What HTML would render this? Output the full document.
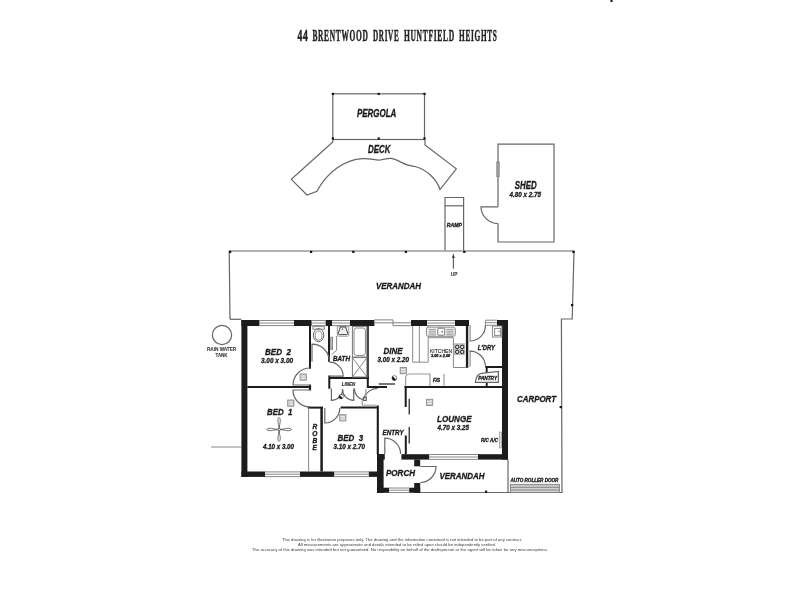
<!DOCTYPE html>
<html><head><meta charset="utf-8">
<style>
html,body{margin:0;padding:0;background:#fff;}
body{width:800px;height:600px;overflow:hidden;}
svg{display:block;filter:blur(0.3px);}
text{font-family:"Liberation Sans",sans-serif;font-weight:bold;font-style:italic;fill:#1a1a1a;stroke:#1a1a1a;stroke-width:.32;text-anchor:middle;}
.t{font-family:"Liberation Serif",serif;font-style:normal;font-weight:bold;fill:#222;stroke:#222;stroke-width:.5;text-anchor:start;letter-spacing:1.5px;}
.l{stroke:#666;stroke-width:1.2;fill:none;}
.g{stroke:#888;stroke-width:1;fill:none;}
.w{fill:#1c1c1c;stroke:none;}
.k{stroke:#1c1c1c;fill:none;stroke-width:2;}
.d{fill:#111;}
.s{font-style:normal;font-weight:normal;fill:#3a3a3a;stroke:none;}
.b{font-weight:bold;fill:#3c3c3c;stroke:#3c3c3c;stroke-width:.12;}
</style></head><body>
<svg width="800" height="600" viewBox="0 0 800 600">
<rect width="800" height="600" fill="#fff"/>
<!-- TITLE -->
<text class="t" x="297.4" y="41.3" font-size="16" textLength="11.4" lengthAdjust="spacingAndGlyphs">44</text>
<text class="t" x="312.4" y="41.3" font-size="16" textLength="56.1" lengthAdjust="spacingAndGlyphs">BRENTWOOD</text>
<text class="t" x="373" y="41.3" font-size="16" textLength="26.4" lengthAdjust="spacingAndGlyphs">DRIVE</text>
<text class="t" x="403.9" y="41.3" font-size="16" textLength="51.0" lengthAdjust="spacingAndGlyphs">HUNTFIELD</text>
<text class="t" x="459.1" y="41.3" font-size="16" textLength="38.5" lengthAdjust="spacingAndGlyphs">HEIGHTS</text>
<rect x="610.5" y="0" width="2" height="2" class="d"/>
<!-- PERGOLA -->
<g id="pergola">
<rect class="l" x="332.8" y="93.8" width="91.7" height="45.7"/>
<g class="d">
<rect x="331.8" y="92.8" width="2.2" height="2.2"/><rect x="377.6" y="92.8" width="2.2" height="2.2"/><rect x="423.4" y="92.8" width="2.2" height="2.2"/>
<rect x="331.8" y="137.4" width="2.2" height="2.2"/><rect x="377.6" y="137.4" width="2.2" height="2.2"/><rect x="423.4" y="137.4" width="2.2" height="2.2"/>
</g>
<text x="376.6" y="117.1" font-size="10.2" textLength="39.3" lengthAdjust="spacingAndGlyphs">PERGOLA</text>
</g>
<!-- DECK -->
<g id="deck">
<path class="l" d="M332.8,139.5 L332.8,142 L291.3,179.3 L307,195 L317,191.3 C327,172 345,159.5 362.5,158.6 C370,158.2 376,160.5 380,160 C384,159.5 388,158 391,158.4 C398,159.5 403,164 408,165.2 C411,166 413,165.8 416,166.8 C428,170.5 437,180 440,189.5 L456.3,168.8 L425,145 L425,139.5"/>
<text x="379.3" y="153.2" font-size="10.2" textLength="22.5" lengthAdjust="spacingAndGlyphs">DECK</text>
</g>
<!-- SHED -->
<g id="shed">
<path class="l" d="M498,206.8 L498,144.1 L554,144.1 L554,242 L498,242 L498,223.4"/>
<path class="l" d="M498,206.8 L481,206.8 A17,17 0 0 0 498,223.6"/>
<rect class="g" x="496.8" y="162" width="2.4" height="14.6" fill="#ccc"/>
<text x="525.7" y="189" font-size="10.2" textLength="21.9" lengthAdjust="spacingAndGlyphs">SHED</text>
<text x="525.3" y="196.8" font-size="7.2" textLength="31.5" lengthAdjust="spacingAndGlyphs">4.80 x 2.75</text>
</g>
<!-- RAMP -->
<g id="ramp">
<path class="l" d="M445,250.6 V197.5 H463.6 V250.6"/>
<line class="l" x1="445" y1="205.8" x2="463.8" y2="205.8"/>
<text x="454.4" y="226.6" font-size="5.6" textLength="15.2" lengthAdjust="spacingAndGlyphs">RAMP</text>
<line class="l" x1="453.4" y1="256" x2="453.4" y2="268.8" stroke="#444" stroke-width="0.9"/>
<path d="M453.4,253.2 L452.1,258 L454.7,258 Z" fill="#333"/>
<text x="454.1" y="276.2" font-size="4.6" class="s b" textLength="6.7" lengthAdjust="spacingAndGlyphs">UP</text>
</g>
<!-- VERANDAH (rear) + CARPORT outline -->
<g id="verandah">
<path class="l" d="M230,319.3 L229.2,251 L574,251 L572.2,319 L561.4,319 L562,492.5 L420,492.5"/>
<line class="l" x1="230" y1="319.3" x2="241.4" y2="319.3"/>
<g class="d">
<rect x="229" y="250.8" width="2.2" height="2.2"/><rect x="310" y="250.8" width="2.2" height="2.2"/><rect x="352.2" y="250.8" width="2.2" height="2.2"/><rect x="404.8" y="250.8" width="2.2" height="2.2"/><rect x="463.2" y="250.8" width="2.2" height="2.2"/><rect x="572.4" y="250.8" width="2.2" height="2.2"/>
<rect x="571" y="304" width="2.2" height="2.2"/><rect x="559.6" y="406" width="2.2" height="2.2"/><rect x="485" y="490.6" width="2.2" height="2.2"/>
</g>
<text x="398.5" y="289" font-size="9.2" textLength="45" lengthAdjust="spacingAndGlyphs">VERANDAH</text>
<text x="536.5" y="401.8" font-size="9.2" textLength="39" lengthAdjust="spacingAndGlyphs">CARPORT</text>
<line class="l" x1="508" y1="459.6" x2="508" y2="492.5"/>
<!-- roller door -->
<rect class="g" x="510.4" y="484.4" width="49" height="8" fill="#ddd"/>
<path class="g" d="M510.4,486 H559.4 M510.4,487.6 H559.4 M510.4,489.2 H559.4 M510.4,490.8 H559.4" stroke-width="0.6"/>
<text x="534.4" y="482" font-size="5" textLength="48" lengthAdjust="spacingAndGlyphs">AUTO ROLLER DOOR</text>
<text x="461.9" y="478.5" font-size="9.2" textLength="45" lengthAdjust="spacingAndGlyphs">VERANDAH</text>
</g>
<!-- RAIN WATER TANK + fence -->
<circle class="l" cx="222" cy="335" r="9.6" stroke="#777" stroke-width="0.9"/>
<text x="221.6" y="350.6" font-size="4.8" class="s b" textLength="29.2" lengthAdjust="spacingAndGlyphs">RAIN WATER</text>
<text x="221.5" y="357.4" font-size="4.8" class="s b" textLength="12" lengthAdjust="spacingAndGlyphs">TANK</text>
<line class="g" x1="211" y1="447" x2="241.4" y2="447"/>
<!-- HOUSE outer walls -->
<g id="outer" class="w">
<rect x="241.4" y="320" width="6" height="157"/>
<rect x="241.4" y="320" width="18" height="6"/>
<rect x="294" y="320" width="17.6" height="6"/>
<rect x="325.6" y="320" width="6.4" height="6"/>
<rect x="350" y="320" width="24.4" height="6"/>
<rect x="411" y="320" width="16" height="6"/>
<rect x="455" y="320" width="14" height="6"/>
<rect x="497" y="320" width="11" height="6"/>
<rect x="502" y="320" width="6" height="139.6"/>
<rect x="478" y="454.2" width="30" height="5.4"/>
<rect x="401.4" y="454.2" width="27.8" height="5.4"/>
<rect x="241.4" y="471.5" width="23.6" height="5.4"/>
<rect x="300" y="471.5" width="34.2" height="5.4"/>
<rect x="368.8" y="471.5" width="9" height="5.4"/>
<rect x="377" y="454.2" width="6.6" height="38.6"/>
<rect x="377" y="454.2" width="7.8" height="5.4"/>
<rect x="377" y="487.7" width="12" height="5.1"/>
<rect x="409.2" y="487.7" width="11" height="5.1"/>
<rect x="414.2" y="459.5" width="6" height="6.8"/>
<rect x="414.2" y="483" width="6" height="9.8"/>
</g>
<!-- windows -->
<g id="windows" class="g" stroke-width="0.9">
<path d="M259.4,320.5 H294 M259.4,323 H294 M259.4,325.6 H294"/>
<path d="M311.6,320.5 H325.6 M311.6,323 H325.6 M311.6,325.6 H325.6"/>
<path d="M332,320.5 H350 M332,323 H350 M332,325.6 H350"/>
<path d="M374.4,319.9 H393 V325.7 H411 M374.4,322.8 H411" stroke="#808080" stroke-width="1"/>
<path d="M427,320.5 H455 M427,323 H455 M427,325.6 H455"/>
<path d="M485.4,320.2 H497 M485.4,322.7 H497 M485.4,325.3 H497 M485.4,320.2 V325.3"/>
<path d="M429.2,454.5 H478 M429.2,457 H478 M429.2,459.4 H478"/>
<path d="M265,471.9 H300 M265,474.2 H300 M265,476.6 H300"/>
<path d="M334.2,471.9 H368.8 M334.2,474.2 H368.8 M334.2,476.6 H368.8"/>
<path d="M389,488 H409.2 M389,490.2 H409.2 M389,492.5 H409.2"/>
</g>
<!-- interior walls -->
<g id="inner" class="k" stroke-width="1.9">
<path d="M310,326 V368.8"/>
<path d="M247.4,387 H311"/>
<path d="M310,384.6 V390.4" stroke-width="2.2"/>
<path d="M329,326 V361.8"/>
<path d="M367.8,326 V388 M366.8,387 H387"/>
<path d="M328.4,378 H369 M329.3,375.6 V388.8"/>
<path d="M307.7,407.6 H323"/>
<path d="M321.6,407.6 V471.5" stroke-width="2.5"/>
<path d="M340.6,407.5 H378.7 M377.8,405.6 V454.4" stroke-width="2.1"/>
<path d="M404.5,387 H502"/>
<path d="M405.7,386.2 V407 M405.8,435.6 V454.4"/>
<path d="M409.2,398.7 V414.4 M409.2,427 V443.6" stroke-width="1.2"/>
<path d="M378.7,384 H395" stroke-width="1.2"/>
<path d="M467.1,326 V367.8" stroke-width="2.4"/>
<path d="M485.3,367 H502 M486.7,366.2 V387" stroke-width="1.9"/>
</g>
<line class="g" x1="308.6" y1="408" x2="308.6" y2="471.5" stroke-width="0.9"/>
<!-- doors -->
<g id="doors" class="l" stroke="#707070" stroke-width="0.95">
<path d="M310,385 H293 A17,17 0 0 1 310,368"/>
<path d="M310,390 H293 A17,17 0 0 0 310,407"/>
<path d="M312,361.6 V344.2 A17.4,17.4 0 0 1 329.4,361.6"/>
<path d="M329.4,376.2 H343.2 A13.9,13.9 0 0 0 329.4,362.2"/>
<path d="M324.8,408 V423 A15,15 0 0 0 339.8,408"/>
<path d="M377.5,388.4 A14.6,14.6 0 0 0 363.6,399"/>
<path d="M384.8,454 V438.2 A15.8,15.8 0 0 1 400.6,454"/>
<path d="M420.2,466.5 H436 A16,16 0 0 1 420.2,482.5"/>
<path d="M469.9,325.3 V341 A15.6,15.6 0 0 0 485.5,325.3"/>
<path d="M469.9,366.8 V351.2 A15.6,15.6 0 0 1 485.5,366.8"/>
</g>
<rect x="362.2" y="404.5" width="14.6" height="1.5" fill="#bbb"/>
<!-- linen doors -->
<g class="l" stroke-width="0.9">
<path d="M331.4,388.6 V400.4 A11.8,11.8 0 0 0 343,389.4"/>
<path d="M353.7,388.6 V400.4 A11.8,11.8 0 0 1 342.2,389.4"/>
<path d="M354.3,388.6 A11.7,11.7 0 0 0 364,400"/>
<path d="M365.9,389 V397.4" stroke="#999"/>
<rect x="363.3" y="397.4" width="3" height="3"/>
<path d="M362.3,400.4 V405" stroke="#999"/>
</g>
<circle cx="341.1" cy="396.6" r="2.2" fill="#fff" stroke="#111" stroke-width="0.5"/><path d="M339.54,395.04 A2.2,2.2 0 0 0 342.66,398.16 Z" fill="#111"/>
<!-- bathroom fixtures -->
<g id="bathfix" class="g" stroke-width="0.8">
<rect x="313" y="326.6" width="11.4" height="2.6"/>
<ellipse cx="318.6" cy="335.2" rx="5.2" ry="6.6" stroke="#666"/>
<ellipse cx="318.6" cy="335.6" rx="3.4" ry="4.6"/>
<path d="M337.3,326.6 H348.8 V335 Q348.8,336.2 347.6,336.2 H338.5 Q337.3,336.2 337.3,335 Z" stroke="#999"/>
<path d="M340.4,327 H345.6 L347.8,333.4 Q347.9,334.6 346.6,334.6 H339.4 Q338.1,334.6 338.2,333.4 Z" stroke="#444" fill="#eee"/>
<circle cx="342.4" cy="329.2" r="0.6" fill="#333" stroke="none"/>
<path d="M336.6,336 V350.3 L331.5,354.7"/>
<rect x="330.8" y="337.3" width="1.7" height="12" fill="#ccc"/>
<rect x="352.4" y="326.4" width="14.6" height="30.6" stroke="#777"/>
<rect x="354" y="328" width="11.4" height="27.4" rx="2.4"/>
<rect x="352.4" y="357.6" width="14.6" height="19.4" stroke="#777"/>
<path d="M352.4,357.6 L367,377 M367,357.6 L352.4,377"/>
</g>
<!-- kitchen -->
<g id="kitchen" class="g" stroke="#aaa" stroke-width="0.9">
<path d="M412.7,326 V362.2 H428.2 V326 M419.3,326 V362.2"/>
<path d="M428.2,337.7 H453.4 V367.5 H466"/>
<rect x="426.4" y="327.1" width="28.9" height="9.2" rx="2" stroke="#888" fill="#f2f2f2"/>
<rect x="437.8" y="328.2" width="6.9" height="7" rx="1" stroke="#777" fill="#fff"/>
<circle cx="442.2" cy="331.8" r="0.7" fill="#333" stroke="none"/>
<path d="M428.6,329.4 H436 M428.6,331.2 H436 M428.6,333 H436 M428.6,334.8 H436 M446.4,329.4 H453.6 M446.4,331.2 H453.6 M446.4,333 H453.6 M446.4,334.8 H453.6" stroke="#777" stroke-width="0.7"/>
<rect x="453.9" y="343.2" width="11" height="12" fill="#bdbdbd" stroke="none"/>
<g stroke="#111" stroke-width="0.9" fill="#e8e8e8">
<circle cx="457.2" cy="346.9" r="1.7"/><circle cx="462.2" cy="346.9" r="1.7"/><circle cx="457.2" cy="351.9" r="1.7"/><circle cx="462.2" cy="351.9" r="1.7"/>
</g>
<path d="M405.6,386.2 V378 Q405.8,374 410,374 H430 V386.2" stroke="#999" stroke-width="1.2"/>
<path d="M444,374 V385.4" stroke="#aaa" stroke-width="1.4"/>
<rect x="468.6" y="326" width="1.3" height="15" fill="#ccc" stroke="none"/>
<rect x="468.6" y="351.2" width="1.3" height="15.6" fill="#ccc" stroke="none"/>
</g>
<!-- laundry trough -->
<g class="g" stroke="#777" stroke-width="0.8">
<rect x="492.4" y="326" width="9.4" height="11"/>
<rect x="494.6" y="328.4" width="6" height="7"/>
<circle cx="499" cy="331.6" r="0.6" fill="#333" stroke="none"/>
</g>
<!-- pantry -->
<path class="l" stroke="#555" stroke-width="0.9" style="fill:#fff" d="M475.4,382.4 Q476.2,374.2 481.4,373.4 L498.4,371.4 V382.4 Z"/>
<!-- AC -->
<rect x="499.6" y="432" width="2" height="16" fill="#ddd" stroke="#888" stroke-width="0.6"/>
<!-- ball in dine -->
<circle cx="394.4" cy="378.0" r="2.4" fill="#fff" stroke="#111" stroke-width="0.5"/><path d="M392.70,376.30 A2.4,2.4 0 0 0 396.10,379.70 Z" fill="#111"/>
<!-- vents -->
<g id="vents">
<rect x="400.2" y="367.5" width="6.2" height="6.2" fill="#c6c6c6" stroke="#8c8c8c" stroke-width="0.9"/><path d="M401.0,369.5 h4.6 M401.0,371.8 h4.6" stroke="#f4f4f4" stroke-width="0.9"/>
<rect x="300.1" y="374.0" width="6.2" height="6.2" fill="#c6c6c6" stroke="#8c8c8c" stroke-width="0.9"/><path d="M300.9,376.0 h4.6 M300.9,378.3 h4.6" stroke="#f4f4f4" stroke-width="0.9"/>
<rect x="287.7" y="400.0" width="6.2" height="6.2" fill="#c6c6c6" stroke="#8c8c8c" stroke-width="0.9"/><path d="M288.5,402.0 h4.6 M288.5,404.3 h4.6" stroke="#f4f4f4" stroke-width="0.9"/>
<rect x="339.7" y="414.7" width="6.2" height="6.2" fill="#c6c6c6" stroke="#8c8c8c" stroke-width="0.9"/><path d="M340.5,416.7 h4.6 M340.5,419.0 h4.6" stroke="#f4f4f4" stroke-width="0.9"/>
<rect x="426.5" y="399.3" width="6.2" height="6.2" fill="#c6c6c6" stroke="#8c8c8c" stroke-width="0.9"/><path d="M427.3,401.3 h4.6 M427.3,403.6 h4.6" stroke="#f4f4f4" stroke-width="0.9"/>
</g>
<!-- fan -->
<g id="fan" stroke="#3a3a3a" stroke-width="0.7" fill="#fff">
<path d="M279.1,429.5 L278.5,424.5 C277.5,421 277.8,418 279.1,417.4 C280.4,418 280.7,421 279.7,424.5 Z"/>
<path d="M279.1,429.5 L278.5,434.5 C277.5,438 277.8,440.8 279.1,441.4 C280.4,440.8 280.7,438 279.7,434.5 Z"/>
<path d="M279.1,429.5 L274,428.9 C270.5,427.9 267.3,428.2 266.6,429.5 C267.3,430.8 270.5,431.1 274,430.1 Z"/>
<path d="M279.1,429.5 L284.2,428.9 C287.7,427.9 290.9,428.2 291.6,429.5 C290.9,430.8 287.7,431.1 284.2,430.1 Z"/>
<circle cx="279.1" cy="429.5" r="1.2"/>
</g>
<!-- room labels -->
<g id="labels">
<text x="278" y="355.4" font-size="9.2" style="white-space:pre" xml:space="preserve" textLength="26" lengthAdjust="spacingAndGlyphs">BED  2</text>
<text x="277" y="362.6" font-size="7" textLength="32" lengthAdjust="spacingAndGlyphs">3.00 x 3.00</text>
<text x="279.7" y="415.4" font-size="9.2" xml:space="preserve" textLength="25.4" lengthAdjust="spacingAndGlyphs">BED  1</text>
<text x="278.5" y="449.4" font-size="7" textLength="31" lengthAdjust="spacingAndGlyphs">4.10 x 3.00</text>
<text x="350.3" y="440.6" font-size="9.2" xml:space="preserve" textLength="25.6" lengthAdjust="spacingAndGlyphs">BED  3</text>
<text x="349.3" y="448.6" font-size="7" textLength="31.5" lengthAdjust="spacingAndGlyphs">3.10 x 2.70</text>
<text x="341.5" y="360.5" font-size="6.6" textLength="17" lengthAdjust="spacingAndGlyphs">BATH</text>
<text x="348.5" y="385.6" font-size="4.6" style="stroke-width:.1" textLength="13.4" lengthAdjust="spacingAndGlyphs">LINEN</text>
<text x="393.1" y="353.8" font-size="9.6" textLength="19" lengthAdjust="spacingAndGlyphs">DINE</text>
<text x="393.3" y="361.6" font-size="7" textLength="31.4" lengthAdjust="spacingAndGlyphs">3.00 x 2.20</text>
<text x="441" y="352.8" font-size="6.1" style="font-weight:normal;font-style:normal;stroke-width:.12;fill:#222" textLength="22" lengthAdjust="spacingAndGlyphs">KITCHEN</text>
<text x="440.6" y="357" font-size="3.8" textLength="19.2" lengthAdjust="spacingAndGlyphs">3.00 x 2.60</text>
<text x="486.3" y="349.7" font-size="7.1" textLength="17.3" lengthAdjust="spacingAndGlyphs">L'DRY</text>
<text x="487.6" y="379.9" font-size="5.1" textLength="18.9" lengthAdjust="spacingAndGlyphs">PANTRY</text>
<text x="436.6" y="381.7" font-size="4.6" textLength="7.2" lengthAdjust="spacingAndGlyphs">F/S</text>
<text x="454.3" y="422.4" font-size="9.6" textLength="34.6" lengthAdjust="spacingAndGlyphs">LOUNGE</text>
<text x="453.3" y="430" font-size="7" textLength="31.4" lengthAdjust="spacingAndGlyphs">4.70 x 3.25</text>
<text x="489.5" y="442.4" font-size="5" textLength="17" lengthAdjust="spacingAndGlyphs">R/C A/C</text>
<text x="393.1" y="434.8" font-size="7" textLength="21.2" lengthAdjust="spacingAndGlyphs">ENTRY</text>
<text x="400.5" y="476" font-size="9.2" textLength="29" lengthAdjust="spacingAndGlyphs">PORCH</text>
<text x="314.8" y="428.8" font-size="6.6">R</text>
<text x="314.8" y="435.6" font-size="6.6">O</text>
<text x="314.8" y="442.6" font-size="6.6">B</text>
<text x="314.8" y="449.8" font-size="6.6">E</text>
</g>
<!-- disclaimer -->
<g id="disc" font-size="4.4">
<text class="s" x="402" y="540.9" textLength="240" lengthAdjust="spacingAndGlyphs">This drawing is for illustration purposes only. The drawing and the information contained is not intended to be part of any contract.</text>
<text class="s" x="397" y="545.7" textLength="198" lengthAdjust="spacingAndGlyphs">All measurements are approximate and details intended to be relied upon should be independently verified.</text>
<text class="s" x="400" y="550.5" textLength="296" lengthAdjust="spacingAndGlyphs">The accuracy of this drawing was intended but not guaranteed. No resposibility on behalf of the draftsperson or the agent will be taken for any  misconceptions.</text>
</g>
</svg>
</body></html>
